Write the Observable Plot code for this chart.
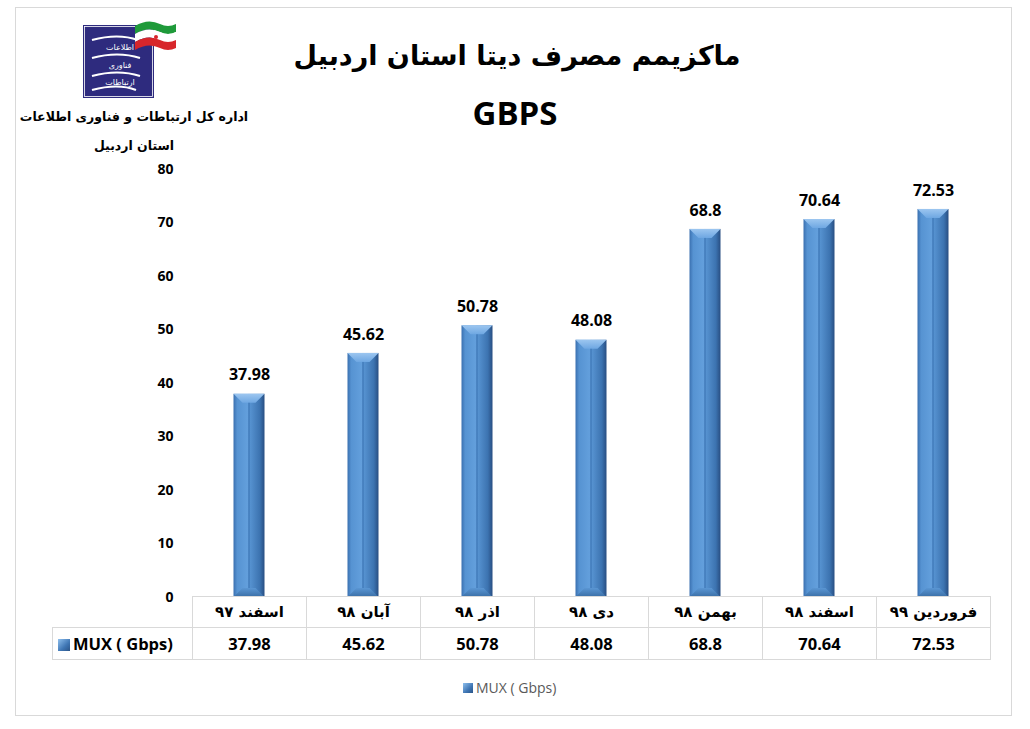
<!DOCTYPE html>
<html>
<head>
<meta charset="utf-8">
<script src="https://cdn.jsdelivr.net/npm/d3@7"></script>
<script src="https://cdn.jsdelivr.net/npm/@observablehq/plot@0.6"></script>
<style>
  html, body { margin: 0; padding: 0; background: #fff; }
  #wrap { position: relative; width: 1030px; height: 729px; overflow: hidden; font-family: "Open Sans", sans-serif; }
  #frame { position: absolute; left: 15px; top: 7px; width: 997px; height: 709px; border: 1px solid #d9d9d9; box-sizing: border-box; }
  .fa { font-family: "DejaVu Sans", sans-serif; direction: rtl; }
  #title { position: absolute; left: 0; width: 1034px; top: 40px; text-align: center; font-size: 27px; font-weight: bold; }
  #sub { position: absolute; left: 0; width: 1030px; top: 90px; text-align: center; font-size: 33px; font-weight: bold; font-family: "Open Sans", sans-serif; }
  #org1 { position: absolute; left: 0; width: 268px; top: 109px; text-align: center; font-size: 12.5px; font-weight: bold; }
  #org2 { position: absolute; left: 0; width: 268px; top: 138px; text-align: center; font-size: 12.5px; font-weight: bold; }
  #logo { position: absolute; left: 80px; top: 18px; }
  #chart { position: absolute; left: 0; top: 147px; }
  #tbl { position: absolute; left: 52px; top: 596px; border-collapse: collapse; font-weight: bold; }
  #tbl td { border: 1px solid #d9d9d9; padding: 0; text-align: center; box-sizing: border-box; }
  #legend { position: absolute; left: 463px; top: 678px; font-size: 14px; color: #595959; display: flex; align-items: center; }
  .sw { display: inline-block; width: 10px; height: 10px; margin-right: 3px; background: linear-gradient(135deg, #8fc0ee, #3f76b4 60%, #2b5487); }
</style>
</head>
<body>
<div id="wrap">
  <div id="frame"></div>
  <svg id="logo" width="100" height="84" viewBox="0 0 100 84">
    <rect x="3" y="7" width="71" height="73" fill="#2e2b7e"/>
    <rect x="4.5" y="8.5" width="68" height="70" fill="none" stroke="#ffffff" stroke-width="0.8"/>
    <path d="M12 22 Q38 15 58 22" stroke="#fff" stroke-width="2.2" fill="none"/>
    <path d="M12 40 Q38 33 60 40" stroke="#fff" stroke-width="2.2" fill="none"/>
    <path d="M12 58 Q38 51 60 58" stroke="#fff" stroke-width="2.2" fill="none"/>
    <path d="M12 72 Q38 65 56 72" stroke="#fff" stroke-width="2.2" fill="none"/>
    <text x="40" y="32" fill="#fff" font-size="8" text-anchor="middle" font-family="DejaVu Sans" direction="rtl">اطلاعات</text>
    <text x="40" y="50" fill="#fff" font-size="8" text-anchor="middle" font-family="DejaVu Sans" direction="rtl">فناوری</text>
    <text x="40" y="67" fill="#fff" font-size="8" text-anchor="middle" font-family="DejaVu Sans" direction="rtl">ارتباطات</text>
    <path d="M55 8 Q68 0 80 6 Q88 10 96 6 L96 14 Q88 18 80 14 Q68 8 55 16 Z" fill="#1f9a3a"/>
    <path d="M55 16 Q68 8 80 14 Q88 18 96 14 L96 22 Q88 26 80 22 Q68 16 55 24 Z" fill="#ffffff"/>
    <path d="M55 24 Q68 16 80 22 Q88 26 96 22 L96 30 Q88 34 80 30 Q68 24 55 32 Z" fill="#d7262b"/>
    <circle cx="76" cy="19" r="2" fill="#d7262b"/>
  </svg>
  <div id="title" class="fa"></div>
  <div id="sub"></div>
  <div id="org1" class="fa"></div>
  <div id="org2" class="fa"></div>
  <div id="chart"></div>
  <table id="tbl"></table>
  <div id="legend"><span class="sw"></span><span id="legtxt"></span></div>
</div>
<script>
// ---- data ----
const titleText = "ماکزیمم مصرف دیتا استان اردبیل";
const subtitleText = "GBPS";
const orgLine1 = "اداره کل ارتباطات و فناوری اطلاعات";
const orgLine2 = "استان اردبیل";
const seriesName = "MUX ( Gbps)";
const months = ["اسفند ۹۷", "آبان ۹۸", "اذر ۹۸", "دی ۹۸", "بهمن ۹۸", "اسفند ۹۸", "فروردین ۹۹"];
const values = [37.98, 45.62, 50.78, 48.08, 68.8, 70.64, 72.53];
const valueLabels = ["37.98", "45.62", "50.78", "48.08", "68.8", "70.64", "72.53"];
const yTicks = [0, 10, 20, 30, 40, 50, 60, 70, 80];

const data = months.map((m, i) => ({month: m, value: values[i], label: valueLabels[i]}));

document.getElementById("title").textContent = titleText;
document.getElementById("sub").textContent = subtitleText;
document.getElementById("org1").textContent = orgLine1;
document.getElementById("org2").textContent = orgLine2;
document.getElementById("legtxt").textContent = seriesName;

const plot = Plot.plot({
  width: 1030,
  height: 453,
  marginLeft: 192,
  marginRight: 40,
  marginTop: 22,
  marginBottom: 3,
  style: {fontFamily: "Open Sans, sans-serif", fontSize: "14px", fontWeight: "bold", color: "#000", background: "transparent", overflow: "visible"},
  x: {domain: months, padding: 0, axis: null},
  y: {domain: [0, 80], ticks: yTicks, tickSize: 0, tickPadding: 19, label: null},
  marks: [
    Plot.barY(data, {x: "month", y: "value", fill: "url(#barGrad)", insetLeft: 41.5, insetRight: 41.5}),
    Plot.text(data, {x: "month", y: "value", text: "label", dy: -19, fontSize: 16, fontWeight: "bold", fill: "#000"})
  ]
});
document.getElementById("chart").appendChild(plot);

// gradients + bevels on the bar rects
const svg = d3.select(plot);
const defs = svg.insert("defs", ":first-child");
const g1 = defs.append("linearGradient").attr("id", "barGrad").attr("x1", 0).attr("x2", 1).attr("y1", 0).attr("y2", 0);
[[0, "#3a70b0"], [0.12, "#5693d2"], [0.45, "#639fdc"], [0.5, "#4a86c4"], [0.55, "#5591cf"], [0.85, "#3c73b0"], [1, "#284e82"]]
  .forEach(([o, c]) => g1.append("stop").attr("offset", o).attr("stop-color", c));
const g2 = defs.append("linearGradient").attr("id", "topGrad").attr("x1", 0).attr("x2", 0).attr("y1", 0).attr("y2", 1);
[[0, "#9cc6f0"], [1, "#6ea7e2"]].forEach(([o, c]) => g2.append("stop").attr("offset", o).attr("stop-color", c));
const g3 = defs.append("linearGradient").attr("id", "botGrad").attr("x1", 0).attr("x2", 0).attr("y1", 0).attr("y2", 1);
[[0, "#5a96d3"], [1, "#3a6ea6"]].forEach(([o, c]) => g3.append("stop").attr("offset", o).attr("stop-color", c));

const barGroup = svg.select('g[aria-label="bar"]');
barGroup.selectAll("rect").each(function() {
  const r = d3.select(this);
  const x = +r.attr("x"), y = +r.attr("y"), w = +r.attr("width"), h = +r.attr("height");
  const b = 9;
  barGroup.append("polygon")
    .attr("points", `${x},${y} ${x + w},${y} ${x + w - b},${y + b} ${x + b},${y + b}`)
    .attr("fill", "url(#topGrad)");
  barGroup.append("polygon")
    .attr("points", `${x},${y + h} ${x + w},${y + h} ${x + w - b},${y + h - b} ${x + b},${y + h - b}`)
    .attr("fill", "url(#botGrad)");
  barGroup.append("line")
    .attr("x1", x + w / 2).attr("x2", x + w / 2).attr("y1", y + b).attr("y2", y + h - b)
    .attr("stroke", "#3f77b6").attr("stroke-width", 0.8);
});

// data table under the chart, columns sized from the plot's x scale
const bw = plot.scale("x").bandwidth;
const tbl = d3.select("#tbl");
const r1 = tbl.append("tr").style("height", "31px");
r1.append("td").style("border", "none").style("width", "140px");
r1.selectAll("td.c").data(months).enter().append("td").attr("class", "c fa")
  .style("width", bw + "px").style("font-size", "15px").text(d => d);
const r2 = tbl.append("tr").style("height", "32px");
r2.append("td").style("width", "140px").style("font-size", "16.5px").style("text-align", "left").style("padding-left", "5px")
  .html('<span class="sw" style="width:12px;height:12px;vertical-align:-1px"></span>' + seriesName);
r2.selectAll("td.v").data(valueLabels).enter().append("td").attr("class", "v")
  .style("width", bw + "px").style("font-size", "16.5px").text(d => d);
</script>
</body>
</html>
